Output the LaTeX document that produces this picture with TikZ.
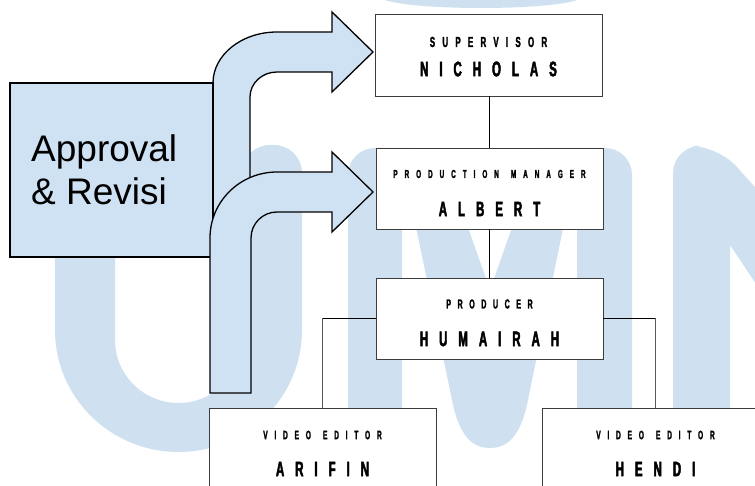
\documentclass[tikz,border=0pt]{standalone}
\usepackage{fontspec}
\setmainfont{Liberation Sans}
\newfontfamily\labfont{Liberation Sans}[FakeStretch=0.55,FakeBold=1.6]
\newfontfamily\namefont{Liberation Sans}[FakeStretch=0.55,LetterSpace=52,FakeBold=2.2]
\definecolor{ablue}{RGB}{207,226,243}
\definecolor{wblue}{RGB}{207,225,240}
\definecolor{boxline}{RGB}{60,60,60}
\newcommand{\wgap}{\kern 12pt\relax}
\newcommand{\labsize}[2]{\labfont\bfseries\fontsize{#1}{#1}\selectfont\addfontfeatures{LetterSpace=#2}}
\tikzset{
  orgbox/.style={draw=boxline,line width=0.9pt,fill=white,minimum width=227pt,minimum height=81pt,inner sep=0pt},
  lab/.style={inner sep=0pt},
  nam/.style={font=\namefont\bfseries\fontsize{21}{24}\selectfont,inner sep=0pt},
  bigarrow/.style={draw=black,line width=1.3pt,fill=ablue,line join=miter},
  link/.style={draw=black,line width=0.9pt},
  vlink/.style={draw=gray!70!black,line width=1.4pt}
}
\begin{document}
\begin{tikzpicture}[x=1pt,y=-1pt]
\clip (0,0) rectangle (755,486);
\fill[white] (0,0) rectangle (755,486);
% watermark
\fill[wblue] (55,330) [rounded corners=28pt] -- (55,145) -- (115,145) [sharp corners] -- (115,340)
  .. controls (115,374.8) and (143.4,403) .. (178.5,403)
  .. controls (213.6,403) and (242,374.8) .. (242,340)
  [rounded corners=28pt] -- (242,145) -- (302,145) [sharp corners] -- (302,330)
  .. controls (302,397.4) and (246.7,452) .. (178.5,452)
  .. controls (110.3,452) and (55,397.4) .. (55,330) -- cycle;
\fill[wblue] (348,490) [rounded corners=27pt] -- (348,148) -- (440,148) [sharp corners] -- (490,290) -- (540,148)
  [rounded corners=27pt] -- (632,148) [sharp corners] -- (632,490) -- (577,490) -- (577,160) -- (528,400)
  .. controls (520,440) and (505,448) .. (490,448) .. controls (475,448) and (460,440) .. (452,400)
  -- (402,160) -- (402,490) -- cycle;
\fill[wblue] (673,490) [rounded corners=27pt] -- (673,146) -- (718,146) [sharp corners] -- (780,215) -- (780,320) -- (730,245) -- (730,490) -- cycle;
\fill[wblue] (382,-1) .. controls (410,11) and (552,11) .. (580,-1) -- cycle;
% org boxes
\node[orgbox,minimum height=82pt] (sup) at (488.5,55) {};
\node[orgbox] (pm) at (489.5,188.5) {};
\node[orgbox] (prod) at (489.5,318.5) {};
\node[orgbox] (ed1) at (322.5,448.5) {};
\node[orgbox] (ed2) at (655.5,448.5) {};
\node[lab,font=\labsize{14.5}{50}] (t1) at (488.5,42) {SUPERVISOR};
\node[nam] (n1) at (488.5,69) {NICHOLAS};
\node[lab,font=\labsize{11.6}{60}] (t2) at (489.5,174) {PRODUCTION\wgap MANAGER};
\node[nam] (n2) at (489.5,209) {ALBERT};
\node[lab,font=\labsize{13}{50}] (t3) at (489.5,304) {PRODUCER};
\node[nam] (n3) at (489.5,339) {HUMAIRAH};
\node[lab,font=\labsize{12.2}{55}] (t4) at (322.5,435) {VIDEO\wgap EDITOR};
\node[nam] (n4) at (322.5,469) {ARIFIN};
\node[lab,font=\labsize{12.2}{55}] (t5) at (655.5,435) {VIDEO\wgap EDITOR};
\node[nam] (n5) at (655.5,469) {HENDI};
% connectors
\draw[link] (pm.north) -- (pm.north |- sup.south);
\draw[link] (prod.north) -- (prod.north |- pm.south);
\draw[link] (prod.west) -- (prod.west -| ed1.north);
\draw[vlink] (prod.west -| ed1.north) -- (ed1.north);
\draw[link] (prod.east) -- (prod.east -| ed2.north);
\draw[vlink] (prod.east -| ed2.north) -- (ed2.north);
% upper arrow
\draw[bigarrow] (213,320) -- (213,83)
  .. controls (213,54.8) and (241.7,32) .. (277,32)
  -- (332,32) -- (332,12) -- (373,52) -- (332,92) -- (332,72) -- (277,72)
  .. controls (262.1,72) and (250,83.2) .. (250,97)
  -- (250,320) -- cycle;
% approval box
\node[draw=black,line width=1.4pt,fill=ablue,minimum width=203pt,minimum height=174pt,inner sep=0pt] (apbox) at (111.5,170) {};
\node[anchor=base west,inner sep=0pt,font=\fontsize{37}{43}\selectfont] (ap1) at (31,162) {Approval};
\node[anchor=base west,inner sep=0pt,font=\fontsize{37}{43}\selectfont] (ap2) at (31,205) {\& Revisi};
% lower arrow
\draw[bigarrow] (210,393) -- (210,238)
  .. controls (210,201.5) and (240,172) .. (277,172)
  -- (332,172) -- (332,152) -- (373,192) -- (332,232) -- (332,212) -- (277,212)
  .. controls (262.6,212) and (251,223.6) .. (251,238)
  -- (251,393) -- cycle;
\end{tikzpicture}
\end{document}
